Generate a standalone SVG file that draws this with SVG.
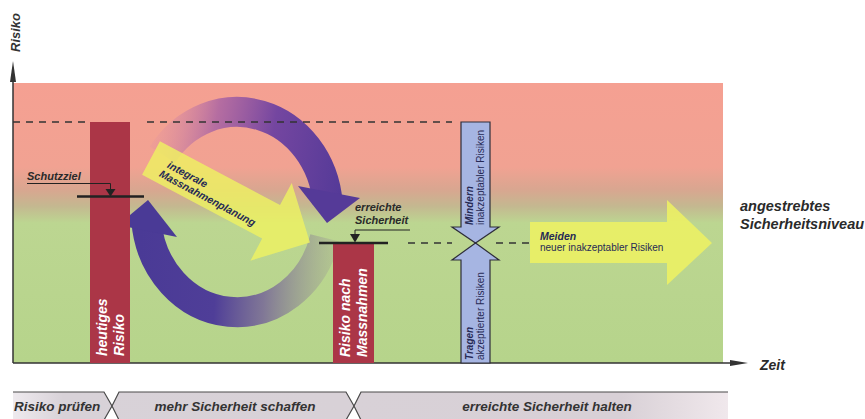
<svg xmlns="http://www.w3.org/2000/svg" width="865" height="419" viewBox="0 0 865 419">
<defs>
<style>
.bi{font-family:"Liberation Sans",Arial,sans-serif;font-weight:bold;font-style:italic}
.rg{font-family:"Liberation Sans",Arial,sans-serif}
.dash{stroke:#333;stroke-width:1.3;stroke-dasharray:7 6;fill:none}
.bar{fill:#ab3647}
.blue{fill:#a6b5e2;stroke:#2e2e3a;stroke-width:1.2}
.navy{fill:#262a55}
.mark{stroke:#222;fill:none}
.band{stroke:#4a4a4a;stroke-width:1.2;fill:none}
</style>
<linearGradient id="bg" x1="0" y1="83" x2="0" y2="363" gradientUnits="userSpaceOnUse">
<stop offset="0" stop-color="#f5a092"/>
<stop offset="0.3" stop-color="#f1a292"/>
<stop offset="0.38" stop-color="#d9a690"/>
<stop offset="0.44" stop-color="#c4b890"/>
<stop offset="0.5" stop-color="#bcd691"/>
<stop offset="1" stop-color="#b6d48b"/>
</linearGradient>
<linearGradient id="topArc" x1="150" y1="160" x2="340" y2="195" gradientUnits="userSpaceOnUse">
<stop offset="0" stop-color="#d88aa8" stop-opacity="0.15"/>
<stop offset="0.3" stop-color="#a05ca6" stop-opacity="0.75"/>
<stop offset="0.6" stop-color="#7446a0"/>
<stop offset="1" stop-color="#553a98"/>
</linearGradient>
<linearGradient id="botArc" x1="335" y1="240" x2="140" y2="230" gradientUnits="userSpaceOnUse">
<stop offset="0" stop-color="#9a9494" stop-opacity="0.25"/>
<stop offset="0.35" stop-color="#766698" stop-opacity="0.85"/>
<stop offset="0.6" stop-color="#4f3e98"/>
<stop offset="1" stop-color="#4a3a96"/>
</linearGradient>
<linearGradient id="bandFill" x1="13" y1="0" x2="728" y2="0" gradientUnits="userSpaceOnUse">
<stop offset="0" stop-color="#eeeaee"/>
<stop offset="0.07" stop-color="#d8d2d8"/>
<stop offset="0.85" stop-color="#d8d0d6"/>
<stop offset="1" stop-color="#f0e8ec"/>
</linearGradient>
</defs>

<g id="background">
<rect x="13" y="83" width="710" height="280" fill="url(#bg)"/>
</g>

<g id="connectors">
<path d="M162.5,154.6 A91,100 0 0 1 327.7,203.3" fill="none" stroke="url(#topArc)" stroke-width="30"/>
<polygon points="298,186 360,198 327,223" fill="#553a98"/>
<path d="M324.9,237.9 A91,100 0 0 1 146.3,220.7" fill="none" stroke="url(#botArc)" stroke-width="30"/>
<polygon points="118,225 177,237 148,200" fill="#4a3a96"/>
<line x1="13" y1="363" x2="732" y2="363" stroke="#333" stroke-width="1.5"/>
<polygon points="748,363 730,360 730,366" fill="#333"/>
<line x1="13" y1="363" x2="13" y2="80" stroke="#333" stroke-width="1.5"/>
<polygon points="13,61 16,82 10,82" fill="#333"/>
<text class="bi" font-size="14" fill="#2a2a2a" x="760" y="370">Zeit</text>
<text class="bi" font-size="13" fill="#333" transform="translate(20,52) rotate(-90)">Risiko</text>
</g>

<g id="massnahmenplanung" transform="translate(151,158) rotate(28)">
<polygon points="0,-19 136,-19 136,-44 180,0 136,44 136,19 0,19" fill="#eef262" fill-opacity="0.82"/>
<text class="bi navy" font-size="10.5"><tspan x="18" y="1">integrale</tspan><tspan x="15" y="12.5">Massnahmenplanung</tspan></text>
</g>

<g id="levels">
<line class="dash" x1="13" y1="122" x2="86" y2="122"/>
<line class="dash" x1="147" y1="122" x2="452" y2="122"/>
<line class="dash" x1="408" y1="243" x2="452" y2="243"/>
<line class="dash" x1="496" y1="243" x2="530" y2="243"/>
</g>

<g id="heutiges-risiko">
<rect class="bar" x="90" y="122" width="40" height="241"/>
<text class="bi" font-size="14" fill="#fff" transform="translate(107,356) rotate(-90)">heutiges</text>
<text class="bi" font-size="14" fill="#fff" transform="translate(124,356) rotate(-90)">Risiko</text>
</g>

<g id="schutzziel">
<text class="bi" font-size="11" fill="#2a2a2a" x="27" y="180">Schutzziel</text>
<polyline class="mark" stroke-width="1" points="27,183.5 110.5,183.5 110.5,190"/>
<polygon points="105.5,189 115.5,189 110.5,196.5" fill="#222"/>
<line class="mark" stroke-width="2.5" x1="77" y1="196.5" x2="144" y2="196.5"/>
</g>

<g id="risiko-nach-massnahmen">
<rect class="bar" x="333" y="243" width="41" height="120"/>
<text class="bi" font-size="14" fill="#fff" transform="translate(350,357) rotate(-90)">Risiko nach</text>
<text class="bi" font-size="14" fill="#fff" transform="translate(367,357) rotate(-90)">Massnahmen</text>
</g>

<g id="erreichte-sicherheit">
<text class="bi" font-size="11" fill="#2a2a2a" x="355" y="211">erreichte</text>
<text class="bi" font-size="11" fill="#2a2a2a" x="355" y="224">Sicherheit</text>
<polyline class="mark" stroke-width="1" points="410,230 355,230 355,235"/>
<polygon points="350,234 360,234 355,242.5" fill="#222"/>
<line class="mark" stroke-width="2.5" x1="319" y1="243" x2="388" y2="243"/>
</g>

<g id="mindern">
<polygon class="blue" points="461,122 490,122 490,227 499,227 475.5,243 452,227 461,227"/>
<text class="bi navy" font-size="10" transform="translate(473,225) rotate(-90)">Mindern</text>
<text class="rg navy" font-size="10" transform="translate(484,225) rotate(-90)">inakzeptabler Risiken</text>
</g>

<g id="tragen">
<polygon class="blue" points="461,363 490,363 490,260 499,260 475.5,243 452,260 461,260"/>
<text class="bi navy" font-size="10" transform="translate(473,360) rotate(-90)">Tragen</text>
<text class="rg navy" font-size="10" transform="translate(484,360) rotate(-90)">akzeptierter Risiken</text>
</g>

<g id="meiden">
<polygon points="530,222 667,222 667,200 712,243 667,285 667,263 530,263" fill="#eef262" fill-opacity="0.85"/>
<text class="bi navy" font-size="10.5" x="540" y="240">Meiden</text>
<text class="rg navy" font-size="10" x="540" y="251">neuer inakzeptabler Risiken</text>
</g>

<g id="sicherheitsniveau">
<text class="bi" font-size="14.5" fill="#2a2a2a" x="740" y="211">angestrebtes</text>
<text class="bi" font-size="14.5" fill="#2a2a2a" x="740" y="229">Sicherheitsniveau</text>
</g>

<g id="phase-risiko-pruefen">
<polygon points="13,392 104,392 112,406 104,420 13,420" fill="url(#bandFill)"/>
<path class="band" d="M13,392 H104 L112,406 L104,420"/>
<text class="bi" font-size="13.5" fill="#333" x="14" y="411">Risiko prüfen</text>
</g>

<g id="phase-mehr-sicherheit">
<polygon points="119,392 346,392 354,406 346,420 119,420 112,406" fill="url(#bandFill)"/>
<path class="band" d="M119,420 L112,406 L119,392 H346 L354,406 L346,420"/>
<text class="bi" font-size="13.5" fill="#333" x="235" y="411" text-anchor="middle">mehr Sicherheit schaffen</text>
</g>

<g id="phase-sicherheit-halten">
<polygon points="361,392 728,392 728,420 361,420 354,406" fill="url(#bandFill)"/>
<path class="band" d="M361,420 L354,406 L361,392 H728"/>
<text class="bi" font-size="13.5" fill="#333" x="547" y="411" text-anchor="middle">erreichte Sicherheit halten</text>
</g>
</svg>
